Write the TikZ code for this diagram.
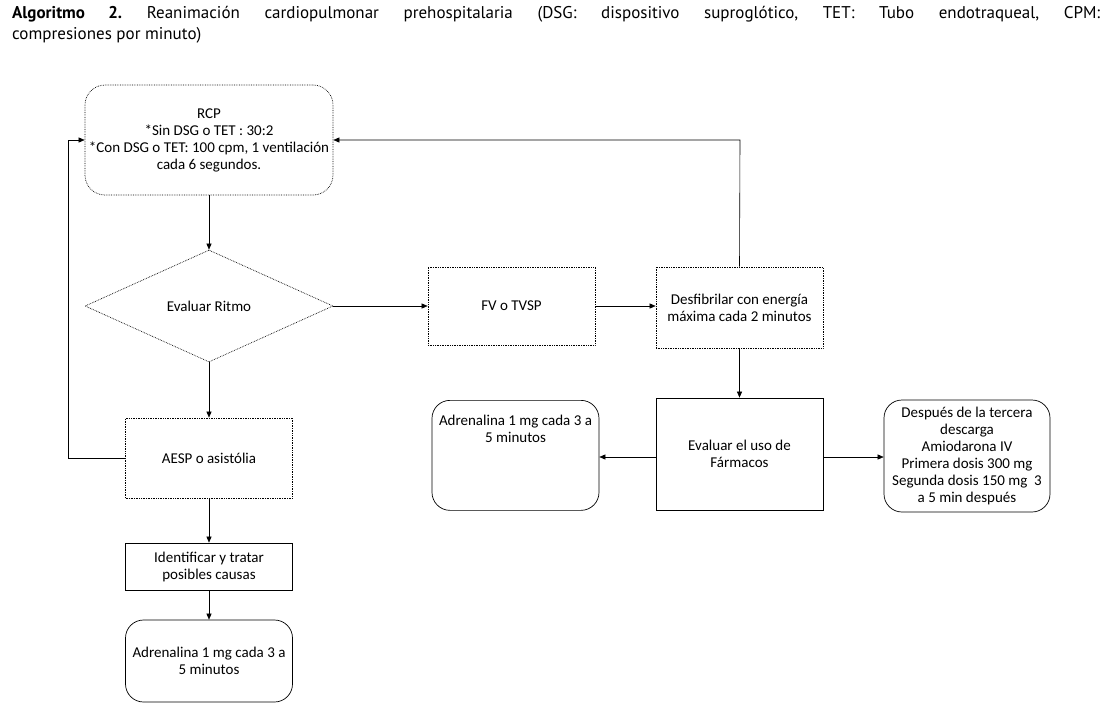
\documentclass[tikz,border=0pt]{standalone}
\usepackage{fontspec}
\setmainfont{Carlito}
\newfontfamily\titlefont{PT Sans}
\usetikzlibrary{arrows.meta,shapes.geometric}
\frenchspacing
\begin{document}
\begin{tikzpicture}[x=1pt,y=-1pt,
  every node/.style={font=\fontsize{15}{17}\selectfont, align=center, inner sep=2pt},
  dotbox/.style={draw, densely dotted, line width=0.7pt, minimum width=167pt},
  solbox/.style={draw, line width=0.7pt, minimum width=167pt},
  arr/.style={draw, line width=0.6pt, -{Triangle[length=6pt,width=5pt]}}
]
\useasboundingbox (0,0) rectangle (1114,716);
\fill[white] (0,0) rectangle (1114,716);

\node[anchor=north west, text width=1088pt, align=justify, inner sep=0pt,
      font=\titlefont\fontsize{17}{21}\selectfont] (title) at (12,6)
  {\frenchspacing\textbf{Algoritmo 2.} Reanimación cardiopulmonar prehospitalaria (DSG: dispositivo suproglótico, TET: Tubo endotraqueal, CPM:\linebreak compresiones por minuto)};

\node[dotbox, rounded corners=20pt, minimum width=248pt, minimum height=110pt] (rcp) at (209,140)
  {RCP\\*Sin DSG o TET : 30:2\\*Con DSG o TET: 100 cpm, 1 ventilación\\cada 6 segundos.};

\node[draw, densely dotted, line width=0.7pt, diamond, aspect=2.21, minimum width=248pt, minimum height=112pt, inner sep=0pt] (ritmo) at (209,306) {Evaluar Ritmo};

\node[dotbox, minimum height=78pt] (fv) at (511.5,306) {FV o TVSP};
\node[dotbox, minimum height=81pt] (desf) at (739.5,307.5) {Desfibrilar con energía\\máxima cada 2 minutos};

\node[solbox, minimum height=112pt] (farm) at (739.5,454) {Evaluar el uso de\\Fármacos};
\node[solbox, rounded corners=18pt, minimum height=110pt, anchor=north] (adr2) at (515.5,400) {Adrenalina 1 mg cada 3 a\\5 minutos\\[36pt]};
\node[solbox, rounded corners=18pt, minimum width=166pt, minimum height=112pt] (desp) at (967,456)
  {Después de la tercera\\descarga\\Amiodarona IV\\Primera dosis 300 mg\\Segunda dosis 150 mg~ 3\\a 5 min después};

\node[dotbox, minimum height=80pt] (aesp) at (209,458) {AESP o asistólia};
\node[solbox, minimum height=47pt] (ident) at (209,566.5) {Identificar y tratar\\posibles causas};
\node[solbox, rounded corners=18pt, minimum height=82pt] (adr1) at (209,661) {Adrenalina 1 mg cada 3 a\\5 minutos};

\coordinate (lt) at (68,140);
\coordinate (rt) at (740,140);

\path[arr] (rcp.south) -- (ritmo.north);
\path[arr] (ritmo.east) -- (fv.west);
\path[arr] (fv.east) -- (fv.east -| desf.west);
\path[arr] (ritmo.south) -- (aesp.north);
\path[arr] (aesp.south) -- (ident.north);
\path[arr] (ident.south) -- (adr1.north);
\path[arr] (desf.south) -- (farm.north);
\path[arr] (farm.west |- 0,457) -- (adr2.east |- 0,457);
\path[arr] (farm.east |- 0,457) -- (desp.west |- 0,457);
\path[arr] (aesp.west) -| (lt) -- (rcp.west);
\path[arr] (desf.north) -- (rt) -- (rcp.east);
\end{tikzpicture}
\end{document}
